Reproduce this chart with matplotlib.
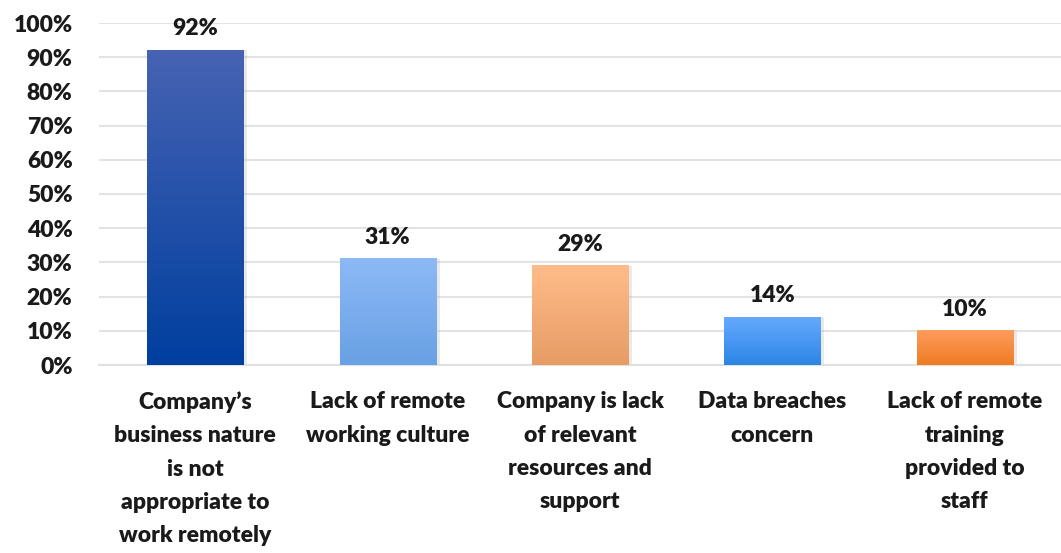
import matplotlib.pyplot as plt
import numpy as np
from matplotlib.colors import LinearSegmentedColormap

categories = [
    "Company\u2019s\nbusiness nature\nis not\nappropriate to\nwork remotely",
    "Lack of remote\nworking culture",
    "Company is lack\nof relevant\nresources and\nsupport",
    "Data breaches\nconcern",
    "Lack of remote\ntraining\nprovided to\nstaff",
]
values = [92, 31, 29, 14, 10]
# (top colour, bottom colour) of each bar's gradient
bar_colors = [
    ("#4763b3", "#003f9f"),
    ("#8db9f6", "#68a1e4"),
    ("#ffbc8a", "#e79c64"),
    ("#66a9ff", "#2b86e4"),
    ("#ff9d5e", "#ee7b22"),
]

plt.rcParams['font.family'] = ['Lato', 'DejaVu Sans']

FS = 16.5
WEIGHT = 'heavy'

fig = plt.figure(figsize=(10.61, 5.53), dpi=100)
ax = fig.add_axes([99 / 1061, 1 - 365 / 553, 962 / 1061, 342 / 553])

x = np.arange(len(values))
bars = ax.bar(x, values, width=0.5, color='none', zorder=3)

grad = np.linspace(1, 0, 256).reshape(-1, 1)
for bar, (top, bottom) in zip(bars, bar_colors):
    cmap = LinearSegmentedColormap.from_list('g', [bottom, top])
    x0, y0 = bar.get_x(), bar.get_y()
    w, h = bar.get_width(), bar.get_height()
    # soft shadow
    ax.bar(x0 + w / 2 + 0.01, h, width=w + 0.02, bottom=0, color='#bbbbbb', alpha=0.3, zorder=2)
    ax.imshow(grad, extent=[x0, x0 + w, y0, y0 + h], aspect='auto', cmap=cmap,
              vmin=0, vmax=1, zorder=3, origin='upper')
    ax.annotate(f"{int(bar.get_height())}%", (x0 + w / 2, y0 + h), xytext=(0, 8),
                textcoords='offset points', ha='center', va='bottom',
                fontsize=FS, fontweight=WEIGHT, color='#1a1a1a')

ax.set_xlim(-0.5, len(values) - 0.5)
ax.set_ylim(0, 100)
ax.set_yticks(range(0, 101, 10))
ax.set_yticklabels([f"{v}%" for v in range(0, 101, 10)])
ax.set_xticks(x)
ax.set_xticklabels(categories, linespacing=1.72)

ax.grid(axis='y', color='#e3e3e3', linewidth=1.5, zorder=0)
ax.set_axisbelow(True)
for s in ['top', 'right', 'left']:
    ax.spines[s].set_visible(False)
ax.spines['bottom'].set_color('#e0e0e0')
ax.spines['bottom'].set_linewidth(1.5)
ax.tick_params(axis='y', length=0, pad=19, labelsize=FS, labelcolor='#1a1a1a')
ax.tick_params(axis='x', length=0, pad=19, labelsize=FS, labelcolor='#1a1a1a')
for lbl in ax.get_xticklabels() + ax.get_yticklabels():
    lbl.set_fontweight(WEIGHT)

fig.savefig('out.png', dpi=100)
